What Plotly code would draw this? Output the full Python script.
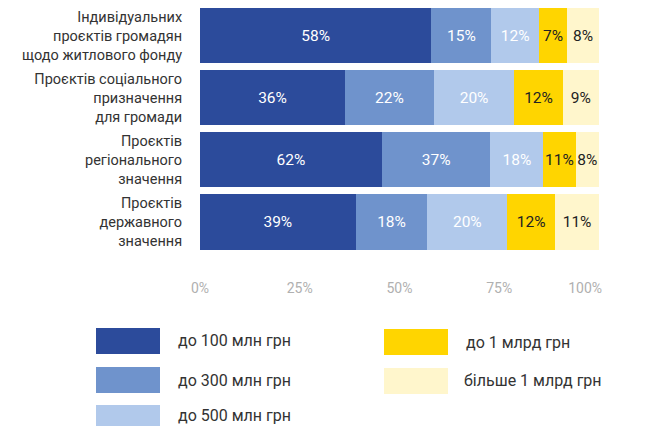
import plotly.graph_objects as go

categories = [
    "Індивідуальних<br>проєктів громадян<br>щодо житлового фонду",
    "Проєктів соціального<br>призначення<br>для громади",
    "Проєктів<br>регіонального<br>значення",
    "Проєктів<br>державного<br>значення",
]
series_names = ["до 100 млн грн", "до 300 млн грн", "до 500 млн грн", "до 1 млрд грн", "більше 1 млрд грн"]
v_100m = [58, 36, 62, 39]
v_300m = [15, 22, 37, 18]
v_500m = [12, 20, 18, 20]
v_1b = [7, 12, 11, 12]
v_over1b = [8, 9, 8, 11]
series_values = [v_100m, v_300m, v_500m, v_1b, v_over1b]
tick_vals = [0, 25, 50, 75, 100]
tick_labels = ["0%", "25%", "50%", "75%", "100%"]

colors = ["#2C4B9B", "#6F93CC", "#B1C9EB", "#FFD500", "#FFF6CC"]
text_colors = ["#FFFFFF", "#FFFFFF", "#FFFFFF", "#222222", "#222222"]
FONT = "Roboto"
BARGAP = 0.11

fig = go.Figure()
for name, vals, c, tc in zip(series_names, series_values, colors, text_colors):
    fig.add_trace(go.Bar(
        y=categories, x=vals, orientation="h", name=name,
        marker=dict(color=c, line=dict(width=0)),
        text=[f"{v}%" for v in vals], textposition="inside",
        insidetextanchor="middle", textangle=0,
        textfont=dict(color=tc, size=15.5, family=FONT),
        hoverinfo="skip",
    ))

# page body has an 8px margin; figure is sized to fill the remaining window
OFF = 8
W, H = 651 - OFF, 426 - OFF
L, R, T, B = 192, 52, 0, 173
pw, ph = W - L - R, H - T - B

def px(x):  # reference-window pixel -> paper
    return (x - OFF - L) / pw

def py(y):
    return (H - B - (y - OFF)) / ph

shapes = []
annotations = []
legend_items = [
    (0, 96, 328, 176, 341),
    (1, 96, 367, 176, 380),
    (2, 96, 405, 176, 415),
    (3, 384, 329, 464, 342),
    (4, 384, 368, 462, 380),
]
for idx, sx, sy, tx, ty in legend_items:
    shapes.append(dict(type="rect", xref="paper", yref="paper",
                       x0=px(sx), x1=px(sx + 64), y0=py(sy), y1=py(sy + 26),
                       fillcolor=colors[idx], line=dict(width=0), layer="above"))
    annotations.append(dict(xref="paper", yref="paper", x=px(tx), y=py(ty),
                            xanchor="left", yanchor="middle", showarrow=False,
                            text=series_names[idx],
                            font=dict(size=16, color="#333333", family=FONT)))

# last tick label sits slightly inside the axis end, as in the reference
shown_tick_labels = tick_labels[:-1] + [tick_labels[-1] + "\u00a0" * 8]

fig.update_layout(
    width=W, height=H,
    margin=dict(l=L, r=R, t=T, b=B, pad=0),
    barmode="stack", barnorm="percent", bargap=BARGAP,
    showlegend=False,
    plot_bgcolor="white", paper_bgcolor="white",
    font=dict(family=FONT),
    uniformtext=dict(minsize=15, mode="show"),
    shapes=shapes, annotations=annotations,
    xaxis=dict(range=[0, 100], tickvals=tick_vals, ticktext=shown_tick_labels,
               showgrid=False, zeroline=False, showline=False,
               ticks="outside", ticklen=22, tickcolor="rgba(0,0,0,0)",
               tickfont=dict(size=14, color="#B0B0B0", family=FONT), fixedrange=True),
    yaxis=dict(range=[len(categories) - 0.5, -(1 - BARGAP) / 2],
               showgrid=False, zeroline=False, showline=False,
               ticks="outside", ticklen=14, tickcolor="rgba(0,0,0,0)",
               tickfont=dict(size=14.5, color="#333333", family=FONT), fixedrange=True),
)

fig.write_html("out.html")
